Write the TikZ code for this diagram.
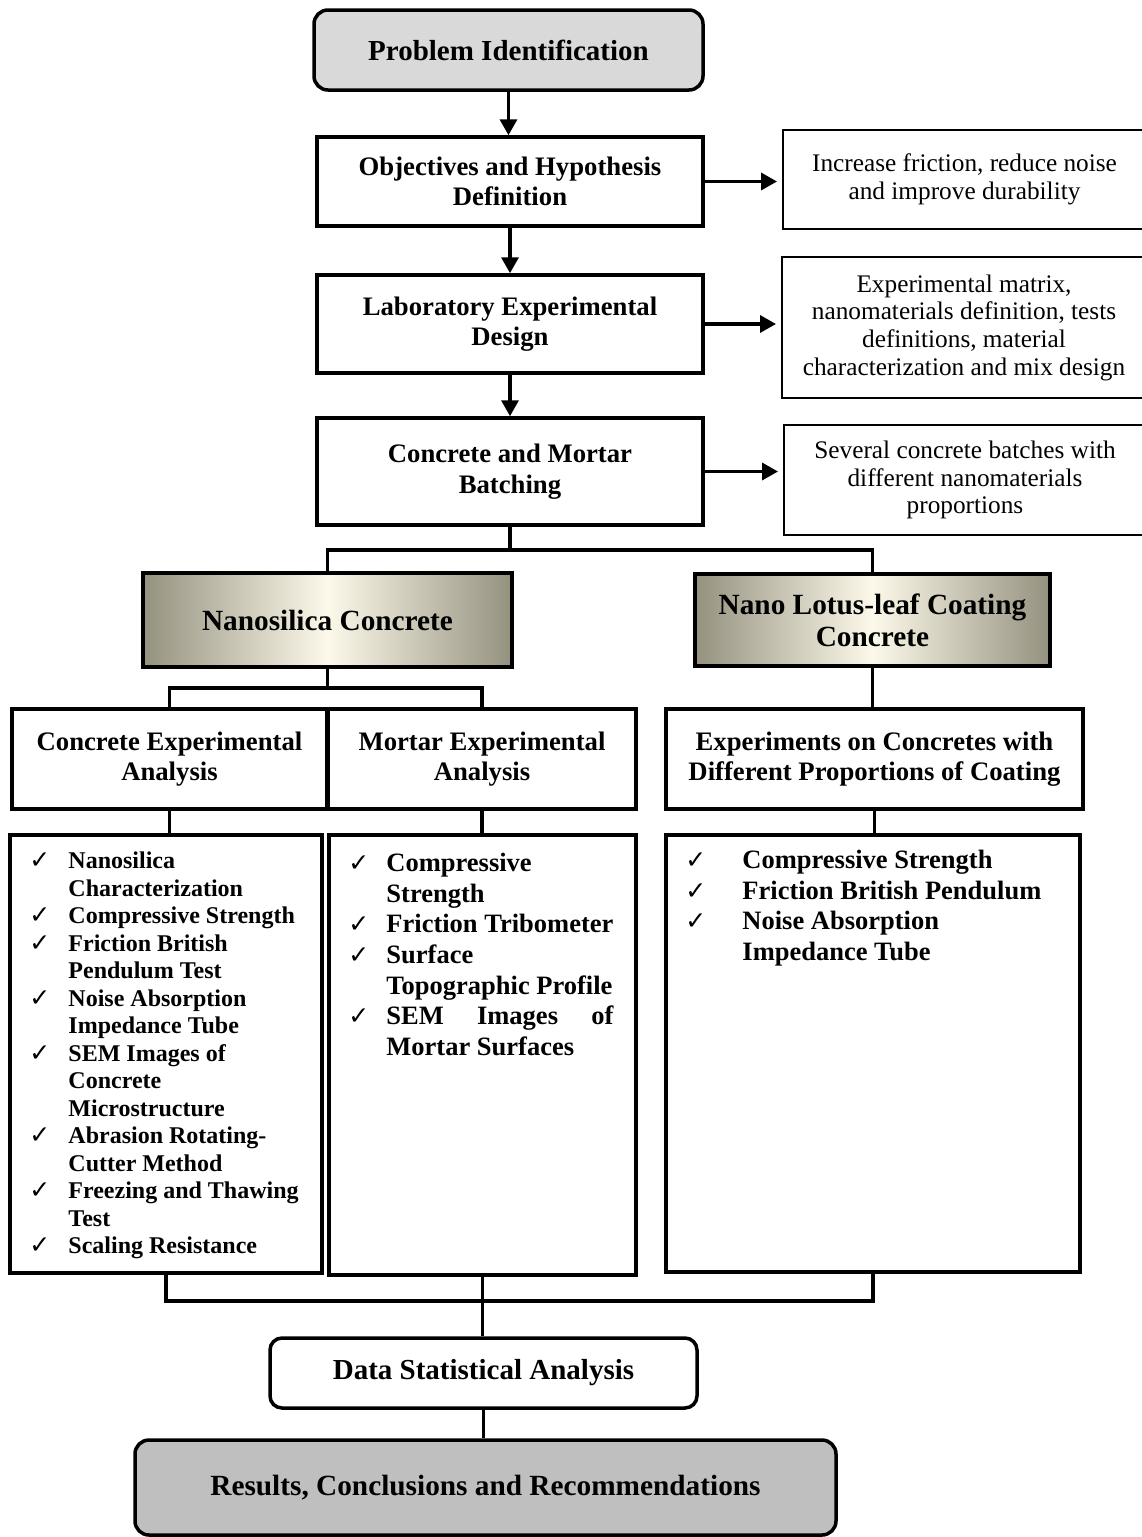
\documentclass[tikz,border=0pt]{standalone}
\usepackage{fontspec}
\setmainfont{Liberation Serif}
\newfontfamily\tickfont{DejaVu Sans}
\usepackage{tikz}
\usetikzlibrary{arrows.meta,positioning,calc}
\definecolor{startgray}{HTML}{D9D9D9}
\definecolor{endgray}{HTML}{BFBFBF}
\definecolor{shadeedge}{HTML}{94917F}
\definecolor{shadecore}{HTML}{FCF9EA}
\tikzset{
  flowbox/.style={draw, line width=3.5pt, align=center, fill=white,
    font=\fontsize{26.7}{30.5}\selectfont\bfseries},
  startbox/.style={flowbox, rounded corners=14pt, fill=startgray,
    font=\fontsize{29}{32}\selectfont\bfseries},
  endbox/.style={startbox, fill=endgray, font=\fontsize{29.3}{32}\selectfont\bfseries},
  databox/.style={startbox, fill=white, rounded corners=12pt},
  shadebox/.style={flowbox, left color=shadeedge, right color=shadeedge,
    middle color=shadecore, font=\fontsize{29.3}{32}\selectfont\bfseries},
  notebox/.style={draw, line width=2pt, align=center,
    font=\fontsize{25.3}{27.7}\selectfont},
  listbox/.style={draw, line width=3.5pt},
  listtext/.style={inner sep=0pt, anchor=north west, align=left,
    font=\fontsize{26.5}{30.7}\selectfont\bfseries},
  arr/.style={-{Triangle[length=16pt, width=17pt]}, line width=3.5pt},
  link/.style={line width=3.5pt}
}
\newcommand{\tickmark}{{\tickfont\fontsize{25}{25}\selectfont ✓}}

\begin{document}
\begin{tikzpicture}[x=1pt, y=-1pt]
    \useasboundingbox (0,0) rectangle (1142,1537);
    \fill[white] (0,0) rectangle (1142,1537);
    \node[startbox, minimum width=389pt, minimum height=80pt] (prob) at (508.5,50) {Problem Identification};
    \node[flowbox, minimum width=386pt, minimum height=89pt] (obj) at (510,181.5) {Objectives and Hypothesis\\Definition};
    \node[flowbox, minimum width=386pt, minimum height=98pt] (lab) at (510,324) {Laboratory Experimental\\Design};
    \node[flowbox, minimum width=386pt, minimum height=107pt] (batch) at (510,471.5) {Concrete and Mortar\\Batching};
    \node[notebox, minimum width=363pt, minimum height=99pt] (goal) at (964.5,179.5) {Increase friction, reduce noise\\and improve durability};
    \node[notebox, minimum width=364pt, minimum height=141pt] (plan) at (964,327.5) {Experimental matrix,\\nanomaterials definition, tests\\definitions, material\\characterization and mix design};
    \node[notebox, minimum width=362pt, minimum height=110pt] (mixes) at (965,480) {Several concrete batches with\\different nanomaterials\\proportions};
    \node[shadebox, minimum width=369pt, minimum height=94pt] (nano) at (327.5,620) {Nanosilica Concrete};
    \node[shadebox, minimum width=355pt, minimum height=92pt] (lotus) at (872.5,620) {Nano Lotus-leaf Coating\\Concrete};
    \node[flowbox, minimum width=315pt, minimum height=100pt] (cea) at (169.5,759) {Concrete Experimental\\Analysis};
    \node[flowbox, minimum width=308pt, minimum height=100pt] (mea) at (482,759) {Mortar Experimental\\Analysis};
    \node[flowbox, minimum width=417pt, minimum height=100pt] (eoc) at (874.5,759) {Experiments on Concretes with\\Different Proportions of Coating};
    \node[listbox, minimum width=312pt, minimum height=438pt] (list1) at (166,1054) {};
    \node[listbox, minimum width=307pt, minimum height=440pt] (list2) at (482.5,1055) {};
    \node[listbox, minimum width=414pt, minimum height=437pt] (list3) at (873,1053.5) {};
    \node[listtext, font=\fontsize{24}{27.5}\selectfont\bfseries] (list1txt) at ([xshift=21pt, yshift=-16pt]list1.north west) {%
      \begin{tabular}{@{}p{39pt}@{}l@{}}
        \tickmark & Nanosilica\\
                  & Characterization\\
        \tickmark & Compressive Strength\\
        \tickmark & Friction British\\
                  & Pendulum Test\\
        \tickmark & Noise Absorption\\
                  & Impedance Tube\\
        \tickmark & SEM Images of\\
                  & Concrete\\
                  & Microstructure\\
        \tickmark & Abrasion Rotating-\\
                  & Cutter Method\\
        \tickmark & Freezing and Thawing\\
                  & Test\\
        \tickmark & Scaling Resistance
      \end{tabular}};
    \node[listtext] (list2txt) at ([xshift=21pt, yshift=-16.5pt]list2.north west) {%
      \begin{tabular}{@{}p{38pt}@{}l@{}}
        \tickmark & Compressive\\
                  & Strength\\
        \tickmark & Friction Tribometer\\
        \tickmark & Surface\\
                  & Topographic Profile\\
        \tickmark & \makebox[227pt][s]{SEM Images of}\\
                  & Mortar Surfaces
      \end{tabular}};
    \node[listtext] (list3txt) at ([xshift=21pt, yshift=-13.5pt]list3.north west) {%
      \begin{tabular}{@{}p{57pt}@{}l@{}}
        \tickmark & Compressive Strength\\
        \tickmark & Friction British Pendulum\\
        \tickmark & Noise Absorption\\
                  & Impedance Tube
      \end{tabular}};
    \node[databox, minimum width=427pt, minimum height=70pt] (data) at (483.5,1373) {Data Statistical Analysis};
    \node[endbox, minimum width=701pt, minimum height=95pt] (result) at (485.5,1487.5) {Results, Conclusions and Recommendations};
    \draw[arr] (prob.south) -- (prob.south |- obj.north);
    \draw[arr] (obj.south) -- (obj.south |- lab.north);
    \draw[arr] (lab.south) -- (lab.south |- batch.north);
    \draw[arr, shorten >=5pt] (obj.east) -- (obj.east -| goal.west);
    \draw[arr, shorten >=5pt] (lab.east) -- (lab.east -| plan.west);
    \draw[arr, shorten >=5pt] (batch.east) -- (batch.east -| mixes.west);
    \draw[link] (batch.south) -- ++(0,23) coordinate (j1);
    \draw[link] (nano.north) |- (j1) -| (lotus.north);
    \draw[link] (nano.south) -- ++(0,19) coordinate (j2);
    \draw[link] (cea.north) |- (j2) -| (mea.north);
    \draw[link] (lotus.south) -- (lotus.south |- eoc.north);
    \draw[link] (cea.south) -- (cea.south |- list1.north);
    \draw[link] (mea.south) -- (mea.south |- list2.north);
    \draw[link] (eoc.south) -- (eoc.south |- list3.north);
    \draw[link] (list2.south) -- (list2.south |- data.north);
    \coordinate (j3) at ($(list2.south)+(0,24)$);
    \draw[link] (list1.south) |- (j3) -| (list3.south);
    \draw[link] (data.south) -- (data.south |- result.north);
  \end{tikzpicture}
\end{document}
